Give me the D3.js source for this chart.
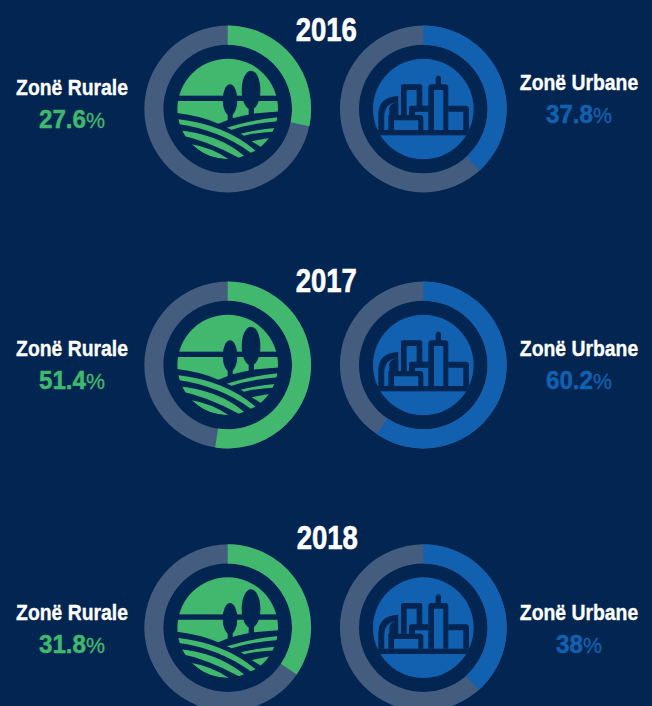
<!DOCTYPE html>
<html><head><meta charset="utf-8">
<script src="https://cdn.jsdelivr.net/npm/d3@7/dist/d3.min.js"></script>
<style>html,body{margin:0;padding:0;background:#022552}svg{display:block}
text{font-family:"Liberation Sans",sans-serif;font-weight:700}</style>
</head><body><svg id="c" width="652" height="706"></svg>
<script>
const years = ["2016","2017","2018"];
const zones = ["Zonë Rurale","Zonë Urbane"];
const ruralLabels = ["27.6","51.4","31.8"];
const urbanLabels = ["37.8","60.2","38"];
const ruralRing = [28.3,52.4,34.5];
const urbanRing = [38.2,59.4,38.4];

const BG="#022552", GREEN="#41b86e", BLUE="#1261b0", TRACK="#445c7e";
const svg=d3.select("#c");
svg.append("rect").attr("width",652).attr("height",706).attr("fill",BG);
svg.append("defs").append("clipPath").attr("id","iconClip").append("circle").attr("r",151);

const angle=d3.scaleLinear().domain([0,100]).range([0,2*Math.PI]);
const arc=d3.arc().innerRadius(64.3).outerRadius(83.4);

const rowRing=[109,365,627.7], rowTitle=[40.5,291.7,549.3];
const titleX=[326.3,326.3,327.3];
const nameY=[[95,90],[356,356],[620,620]], valY=[[128,123],[389,389],[653,653]];
const ringX=[227.7,423.3], labelX=[72,579];

function farm(g){
  const c=g.append("g").attr("clip-path","url(#iconClip)");
  const p=c.append("g").attr("transform","translate(-263,-282)");
  p.append("rect").attr("x",100).attr("y",120).attr("width",330).attr("height",122).attr("fill",GREEN);
  p.append("path").attr("fill",GREEN).attr("d","M100,258H430V288L340,296Q285,304 235,326Q175,300 100,293Z");
  p.append("ellipse").attr("cx",270).attr("cy",255).attr("rx",22).attr("ry",47).attr("fill",BG);
  p.append("rect").attr("x",263).attr("y",285).attr("width",15).attr("height",38).attr("fill",BG);
  p.append("ellipse").attr("cx",333).attr("cy",225).attr("rx",28).attr("ry",58).attr("fill",BG);
  p.append("rect").attr("x",326).attr("y",265).attr("width",16).attr("height",36).attr("fill",BG);
  ["M100,311Q250,325 347,407L332,413Q230,340 100,326Z",
   "M110,346Q230,355 312,422L296,428Q200,375 110,358Z",
   "M155,388Q215,398 266,433Q205,430 172,402Z",
   "M260,338Q330,315 430,305V318Q340,323 275,344Z",
   "M302,356Q350,343 430,337V349Q360,350 312,362Z",
   "M335,379L390,368L364,397Z"
  ].forEach(d=>p.append("path").attr("d",d).attr("fill",GREEN));
}
function city(g){
  const c=g.append("g").attr("clip-path","url(#iconClip)");
  const p=c.append("g").attr("transform","translate(-265,-282)");
  const dark=BG;
  p.append("rect").attr("x",100).attr("y",120).attr("width",330).attr("height",330).attr("fill",BLUE);
  p.append("rect").attr("x",100).attr("y",345).attr("width",330).attr("height",16).attr("fill",dark);
  [
   "M130,345V300Q130,245 190,243V262H182Q148,268 148,305V345Z",
   "M163,302V280Q165,268 182,262H190V302Z",
   "M198,300V215Q198,208 205,208H255Q262,208 262,215V275H245V225H215V300Z",
   "M222,300V280Q222,272 230,272H280V290H240V300Z",
   "M280,345V218Q280,208 290,208H302V190Q303,182 310,182Q318,182 318,190V208H330Q340,208 340,218V345H325V225H297V345Z",
   "M340,272H392Q402,272 402,282V345H385V290H340Z",
   "M160,345V300H255Q265,300 265,310V345H250V316H177V345Z"
  ].forEach(d=>p.append("path").attr("fill",dark).attr("d",d));
}
function label(x,y,sx,col,w){
  return svg.append("text").attr("transform",`translate(${x},${y}) scale(${sx},1)`).attr("text-anchor","middle")
    .attr("fill",col).attr("stroke",col).attr("stroke-width",w);
}

years.forEach((yr,i)=>{
  label(titleX[i],rowTitle[i],0.81,"#fff",0.6).attr("font-size",34).text(yr);
  [[ruralRing,ruralLabels,GREEN,farm],[urbanRing,urbanLabels,BLUE,city]].forEach(([vals,labs,col,icon],j)=>{
    const g=svg.append("g").attr("transform",`translate(${ringX[j]},${rowRing[i]})`);
    g.append("path").attr("d",arc({startAngle:0,endAngle:2*Math.PI})).attr("fill",TRACK);
    g.append("path").attr("d",arc({startAngle:0,endAngle:angle(vals[i])})).attr("fill",col);
    icon(g.append("g").attr("transform","scale(0.3333)"));
    label(labelX[j],nameY[i][j],0.88,"#fff",0.35).attr("font-size",22).text(zones[j]);
    const t=label(labelX[j],valY[i][j],0.93,col,0.5).attr("font-size",26);
    t.append("tspan").text(labs[i]);
    t.append("tspan").attr("font-size",23).attr("font-weight",400).attr("stroke-width",0.3).text("%");
  });
});
</script></body></html>
